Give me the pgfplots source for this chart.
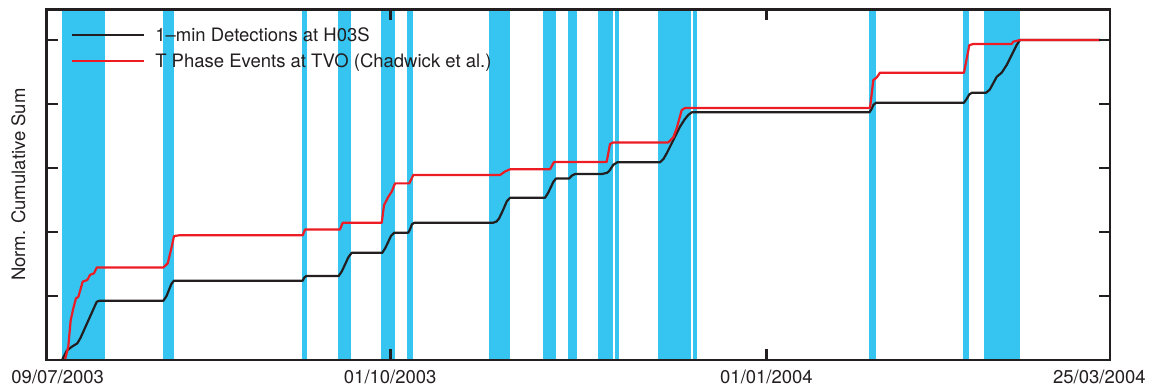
\documentclass[border=0pt]{standalone}
\usepackage{fontspec}
\setmainfont{TeX Gyre Heros}
\usepackage{pgfplots}
\pgfplotsset{compat=1.18}
\definecolor{band}{RGB}{54,197,241}
\definecolor{tvo}{RGB}{237,28,36}
\definecolor{ink}{RGB}{35,31,32}
\newcommand{\fs}{\fontsize{18.5}{22}\selectfont}
\begin{document}
\begin{tikzpicture}
\begin{axis}[
  scale only axis, width=1063.3pt, height=350.7pt,
  xmin=0, xmax=260, ymin=0, ymax=1.096,
  axis on top,
  axis line style={line width=2.6pt, ink},
  every tick/.style={line width=2.6pt, ink},
  major tick length=11pt,
  tick align=inside,
  xtick={84,176}, xticklabels={01/10/2003,01/01/2004},
  extra x ticks={2.7,257.4}, extra x tick labels={09/07/2003,25/03/2004},
  extra x tick style={major tick length=0pt},
  ytick={0,0.2,0.4,0.6,0.8,1}, yticklabels={},
  xticklabel style={anchor=base, yshift=-23pt, font=\fs, text=ink},
  ylabel={Norm. Cumulative Sum},
  ylabel style={at={(axis description cs:-0.0204,0.5)}, anchor=base, font=\fs, text=ink},
  legend style={draw=none, fill=none, at={(axis description cs:0.0224,0.955)}, anchor=north west, font=\fs, text=ink, inner sep=0pt, row sep=6.8pt},
  legend image code/.code={\draw[#1, line width=2.2pt] (0pt,0pt) -- (72.3pt,0pt); \path[draw=none] (0pt,0pt) -- (81.5pt,0pt);},
  legend cell align=left,
]
% shaded bands
\addplot[fill=band, draw=none, forget plot] coordinates {(3.74,0) (3.74,1.096) (14.18,1.096) (14.18,0)} -- cycle;
\addplot[fill=band, draw=none, forget plot] coordinates {(28.44,0) (28.44,1.096) (31.05,1.096) (31.05,0)} -- cycle;
\addplot[fill=band, draw=none, forget plot] coordinates {(62.43,0) (62.43,1.096) (63.65,1.096) (63.65,0)} -- cycle;
\addplot[fill=band, draw=none, forget plot] coordinates {(71.23,0) (71.23,1.096) (74.34,1.096) (74.34,0)} -- cycle;
\addplot[fill=band, draw=none, forget plot] coordinates {(81.74,0) (81.74,1.096) (85.09,1.096) (85.09,0)} -- cycle;
\addplot[fill=band, draw=none, forget plot] coordinates {(88.18,0) (88.18,1.096) (89.50,1.096) (89.50,0)} -- cycle;
\addplot[fill=band, draw=none, forget plot] coordinates {(108.23,0) (108.23,1.096) (113.21,1.096) (113.21,0)} -- cycle;
\addplot[fill=band, draw=none, forget plot] coordinates {(121.36,0) (121.36,1.096) (124.46,1.096) (124.46,0)} -- cycle;
\addplot[fill=band, draw=none, forget plot] coordinates {(127.47,0) (127.47,1.096) (129.60,1.096) (129.60,0)} -- cycle;
\addplot[fill=band, draw=none, forget plot] coordinates {(134.88,0) (134.88,1.096) (138.47,1.096) (138.47,0)} -- cycle;
\addplot[fill=band, draw=none, forget plot] coordinates {(139.04,0) (139.04,1.096) (139.87,1.096) (139.87,0)} -- cycle;
\addplot[fill=band, draw=none, forget plot] coordinates {(149.55,0) (149.55,1.096) (157.47,1.096) (157.47,0)} -- cycle;
\addplot[fill=band, draw=none, forget plot] coordinates {(157.96,0) (157.96,1.096) (158.94,1.096) (158.94,0)} -- cycle;
\addplot[fill=band, draw=none, forget plot] coordinates {(201.15,0) (201.15,1.096) (202.71,1.096) (202.71,0)} -- cycle;
\addplot[fill=band, draw=none, forget plot] coordinates {(224.06,0) (224.06,1.096) (225.52,1.096) (225.52,0)} -- cycle;
\addplot[fill=band, draw=none, forget plot] coordinates {(229.19,0) (229.19,1.096) (237.92,1.096) (237.92,0)} -- cycle;
% H03S detections
\addplot[ink, line width=2.2pt, line join=round] coordinates {
(3.74,0) (4.89,0.029) (6.2,0.042) (7.48,0.052) (8.3,0.07) (12.23,0.182) (12.9,0.185) (13.45,0.185)
(28.51,0.185) (29.3,0.200) (30.5,0.238) (31.13,0.248) (62.60,0.248) (63.0,0.258) (63.5,0.2625)
(71.40,0.2625) (72.2,0.278) (73.8,0.322) (74.58,0.335) (82.06,0.335) (82.8,0.350) (84.2,0.388) (85.00,0.398)
(88.42,0.398) (88.9,0.410) (89.3,0.424) (89.9,0.429) (109.20,0.429) (110.0,0.433) (110.6,0.442) (111.6,0.469) (112.5,0.496) (113.29,0.507)
(121.85,0.507) (122.6,0.522) (123.9,0.557) (124.54,0.567) (127.72,0.567) (128.4,0.576) (129.18,0.581)
(135.71,0.581) (137.0,0.585) (137.5,0.590) (138.55,0.610) (139.53,0.618)
(149.97,0.618) (150.8,0.628) (151.61,0.646) (154.86,0.729) (156.0,0.752) (156.90,0.766) (157.72,0.774)
(201.15,0.774) (201.6,0.782) (202.2,0.798) (202.8,0.804) (224.30,0.804) (224.9,0.815) (225.6,0.830) (226.2,0.835)
(229.68,0.835) (230.6,0.845) (232.30,0.885) (233.52,0.898) (234.74,0.922) (237.2,0.985) (237.99,1.0)
(257.56,1.0)};
\addlegendentry{1–min Detections at H03S}
% TVO T phase events
\addplot[tvo, line width=2.2pt, line join=round] coordinates {
(4.47,0) (5.28,0.042) (5.87,0.125) (6.50,0.161) (7.16,0.193) (7.73,0.197)
(8.80,0.245) (9.93,0.25) (10.59,0.266) (11.57,0.271) (12.23,0.289)
(28.51,0.289) (29.59,0.302) (30.57,0.354) (31.13,0.3875) (32.6,0.39)
(62.60,0.39) (63.16,0.408) (71.72,0.408) (72.38,0.429)
(81.92,0.429) (82.48,0.484) (83.53,0.510) (84.36,0.526) (85.17,0.552)
(88.66,0.552) (89.64,0.578) (110.84,0.578) (112.06,0.589) (113.29,0.596)
(123.07,0.596) (124.05,0.619) (136.93,0.619) (137.74,0.675) (138.55,0.68)
(152.00,0.68) (153.22,0.696) (154.05,0.724) (155.27,0.781) (156.08,0.7875)
(201.32,0.7875) (202.13,0.875) (202.96,0.883) (203.77,0.898)
(224.30,0.898) (225.60,0.984) (226.58,0.9875) (235.97,0.9875) (236.36,0.995) (237.99,1.0)
(257.56,1.0)};
\addlegendentry{T Phase Events at TVO (Chadwick et al.)}
\coordinate (bl) at (rel axis cs:0,0);
\coordinate (tr) at (rel axis cs:1,1);
\end{axis}
\useasboundingbox ([xshift=-46.7pt,yshift=-29pt]bl) rectangle ([xshift=42pt,yshift=9.3pt]tr);
\end{tikzpicture}
\end{document}
